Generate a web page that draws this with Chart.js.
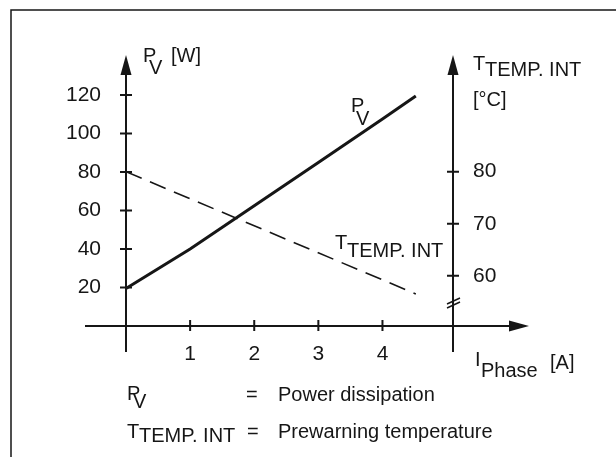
<!DOCTYPE html>
<html><head><meta charset="utf-8">
<script src="https://cdn.jsdelivr.net/npm/chart.js@4"></script>
<style>html,body{margin:0;padding:0;background:#fff}canvas{display:block}</style>
</head><body>
<canvas id="c" width="616" height="457"></canvas>
<script>
// ---- data ----
const currentA = [0, 1, 2, 3, 4, 4.52];          // I_Phase [A]
const powerW = [19.5, 40, 62.5, 85, 107.5, 119.5]; // P_V [W]
const tempCurrentA = [0, 4.52];                    // I_Phase [A]
const tempC = [80, 56.5];                          // T_TEMP. INT [°C]
const xTicks = [1, 2, 3, 4];
const leftTicks = [20, 40, 60, 80, 100, 120];
const rightTicks = [60, 70, 80];

const INK = '#161616';
const FONT = "'Liberation Sans', Arial, sans-serif";

const decor = {
  id: 'decor',
  afterDraw(chart) {
    const ctx = chart.ctx;
    const sx = chart.scales.x, yl = chart.scales.yL, yr = chart.scales.yR;
    const x0 = sx.getPixelForValue(0);
    const xr = sx.getPixelForValue(sx.max);
    const y0 = yl.getPixelForValue(0);
    const top = chart.chartArea.top;
    ctx.save();
    ctx.strokeStyle = INK; ctx.fillStyle = INK;
    // frame
    ctx.lineWidth = 1.5;
    ctx.beginPath(); ctx.moveTo(11, 457); ctx.lineTo(11, 10); ctx.lineTo(616, 10); ctx.stroke();
    // axes
    ctx.lineWidth = 2;
    ctx.beginPath();
    ctx.moveTo(x0, y0 + 26); ctx.lineTo(x0, top + 18);
    ctx.moveTo(xr, y0 + 26); ctx.lineTo(xr, top + 18);
    ctx.moveTo(x0 - 41, y0); ctx.lineTo(xr + 58, y0);
    ctx.stroke();
    // arrow heads
    const arrowUp = (x) => { ctx.beginPath(); ctx.moveTo(x, top); ctx.lineTo(x - 5.5, top + 20); ctx.lineTo(x + 5.5, top + 20); ctx.closePath(); ctx.fill(); };
    arrowUp(x0); arrowUp(xr);
    const tipX = xr + 76;
    ctx.beginPath(); ctx.moveTo(tipX, y0); ctx.lineTo(tipX - 20, y0 - 5.5); ctx.lineTo(tipX - 20, y0 + 5.5); ctx.closePath(); ctx.fill();
    // tick marks
    ctx.lineWidth = 2;
    ctx.beginPath();
    yl.ticks.forEach(t => { const y = yl.getPixelForValue(t.value); ctx.moveTo(x0 - 6, y); ctx.lineTo(x0 + 6, y); });
    yr.ticks.forEach(t => { const y = yr.getPixelForValue(t.value); ctx.moveTo(xr - 6, y); ctx.lineTo(xr + 6, y); });
    sx.ticks.forEach(t => { const x = sx.getPixelForValue(t.value); ctx.moveTo(x, y0 - 6); ctx.lineTo(x, y0 + 5); });
    ctx.stroke();
    // axis break mark
    ctx.lineWidth = 1.5;
    const by = y0 - 24;
    ctx.beginPath();
    ctx.moveTo(xr - 6, by + 2); ctx.lineTo(xr + 7, by - 4);
    ctx.moveTo(xr - 6, by + 6); ctx.lineTo(xr + 7, by);
    ctx.stroke();
    // texts
    ctx.font = '20px ' + FONT;
    ctx.textBaseline = 'alphabetic';
    ctx.textAlign = 'left';
    const t = (s, x, y) => ctx.fillText(s, x, y);
    // left axis title
    t('P', 143, 62); t('V', 149, 74); t('[W]', 171, 62);
    // right axis title
    t('T', 473, 70); t('TEMP. INT', 485, 76); t('[°C]', 473, 106);
    // curve labels
    t('P', 351, 112); t('V', 356, 125);
    t('T', 335, 249); t('TEMP. INT', 347, 257);
    // x axis title
    t('I', 475, 366); t('Phase', 481, 377); t('[A]', 550, 369);
    // legend text
    t('P', 127, 400); t('V', 133, 408); t('=', 246, 401); t('Power dissipation', 278, 401);
    t('T', 127, 438); t('TEMP. INT', 139, 442); t('=', 247, 438); t('Prewarning temperature', 278, 438);
    ctx.restore();
  }
};

new Chart(document.getElementById('c'), {
  type: 'scatter',
  data: {
    datasets: [
      {
        label: 'P_V',
        data: currentA.map((x, i) => ({ x, y: powerW[i] })),
        yAxisID: 'yL',
        showLine: true,
        borderColor: INK,
        borderWidth: 3,
        pointRadius: 0,
        tension: 0
      },
      {
        label: 'T_TEMP. INT',
        data: tempCurrentA.map((x, i) => ({ x, y: tempC[i] })),
        yAxisID: 'yR',
        showLine: true,
        borderColor: INK,
        borderWidth: 1.6,
        borderDash: [17, 9],
        pointRadius: 0,
        tension: 0
      }
    ]
  },
  options: {
    responsive: false,
    animation: false,
    devicePixelRatio: 1,
    layout: { padding: { top: 55, left: 0, right: 0, bottom: 0 } },
    plugins: { legend: { display: false }, tooltip: { enabled: false } },
    scales: {
      x: {
        type: 'linear', min: 0, max: 5.1,
        afterBuildTicks: s => { s.ticks = xTicks.map(v => ({ value: v })); },
        afterFit: s => { s.height = 131; },
        grid: { display: false, drawTicks: false },
        border: { display: false },
        ticks: { color: INK, font: { family: FONT, size: 21 }, padding: 16, maxRotation: 0, autoSkip: false }
      },
      yL: {
        type: 'linear', position: 'left', min: 0, max: 140.8,
        afterBuildTicks: s => { s.ticks = leftTicks.map(v => ({ value: v })); },
        afterFit: s => { s.width = 126; },
        grid: { display: false, drawTicks: false },
        border: { display: false },
        ticks: { color: INK, font: { family: FONT, size: 21 }, padding: 25, autoSkip: false }
      },
      yR: {
        type: 'linear', position: 'right', min: 50.33, max: 102.44,
        afterBuildTicks: s => { s.ticks = rightTicks.map(v => ({ value: v })); },
        afterFit: s => { s.width = 163; },
        grid: { display: false, drawTicks: false },
        border: { display: false },
        ticks: { color: INK, font: { family: FONT, size: 21 }, padding: 20, autoSkip: false }
      }
    }
  },
  plugins: [decor]
});
</script>
</body></html>
